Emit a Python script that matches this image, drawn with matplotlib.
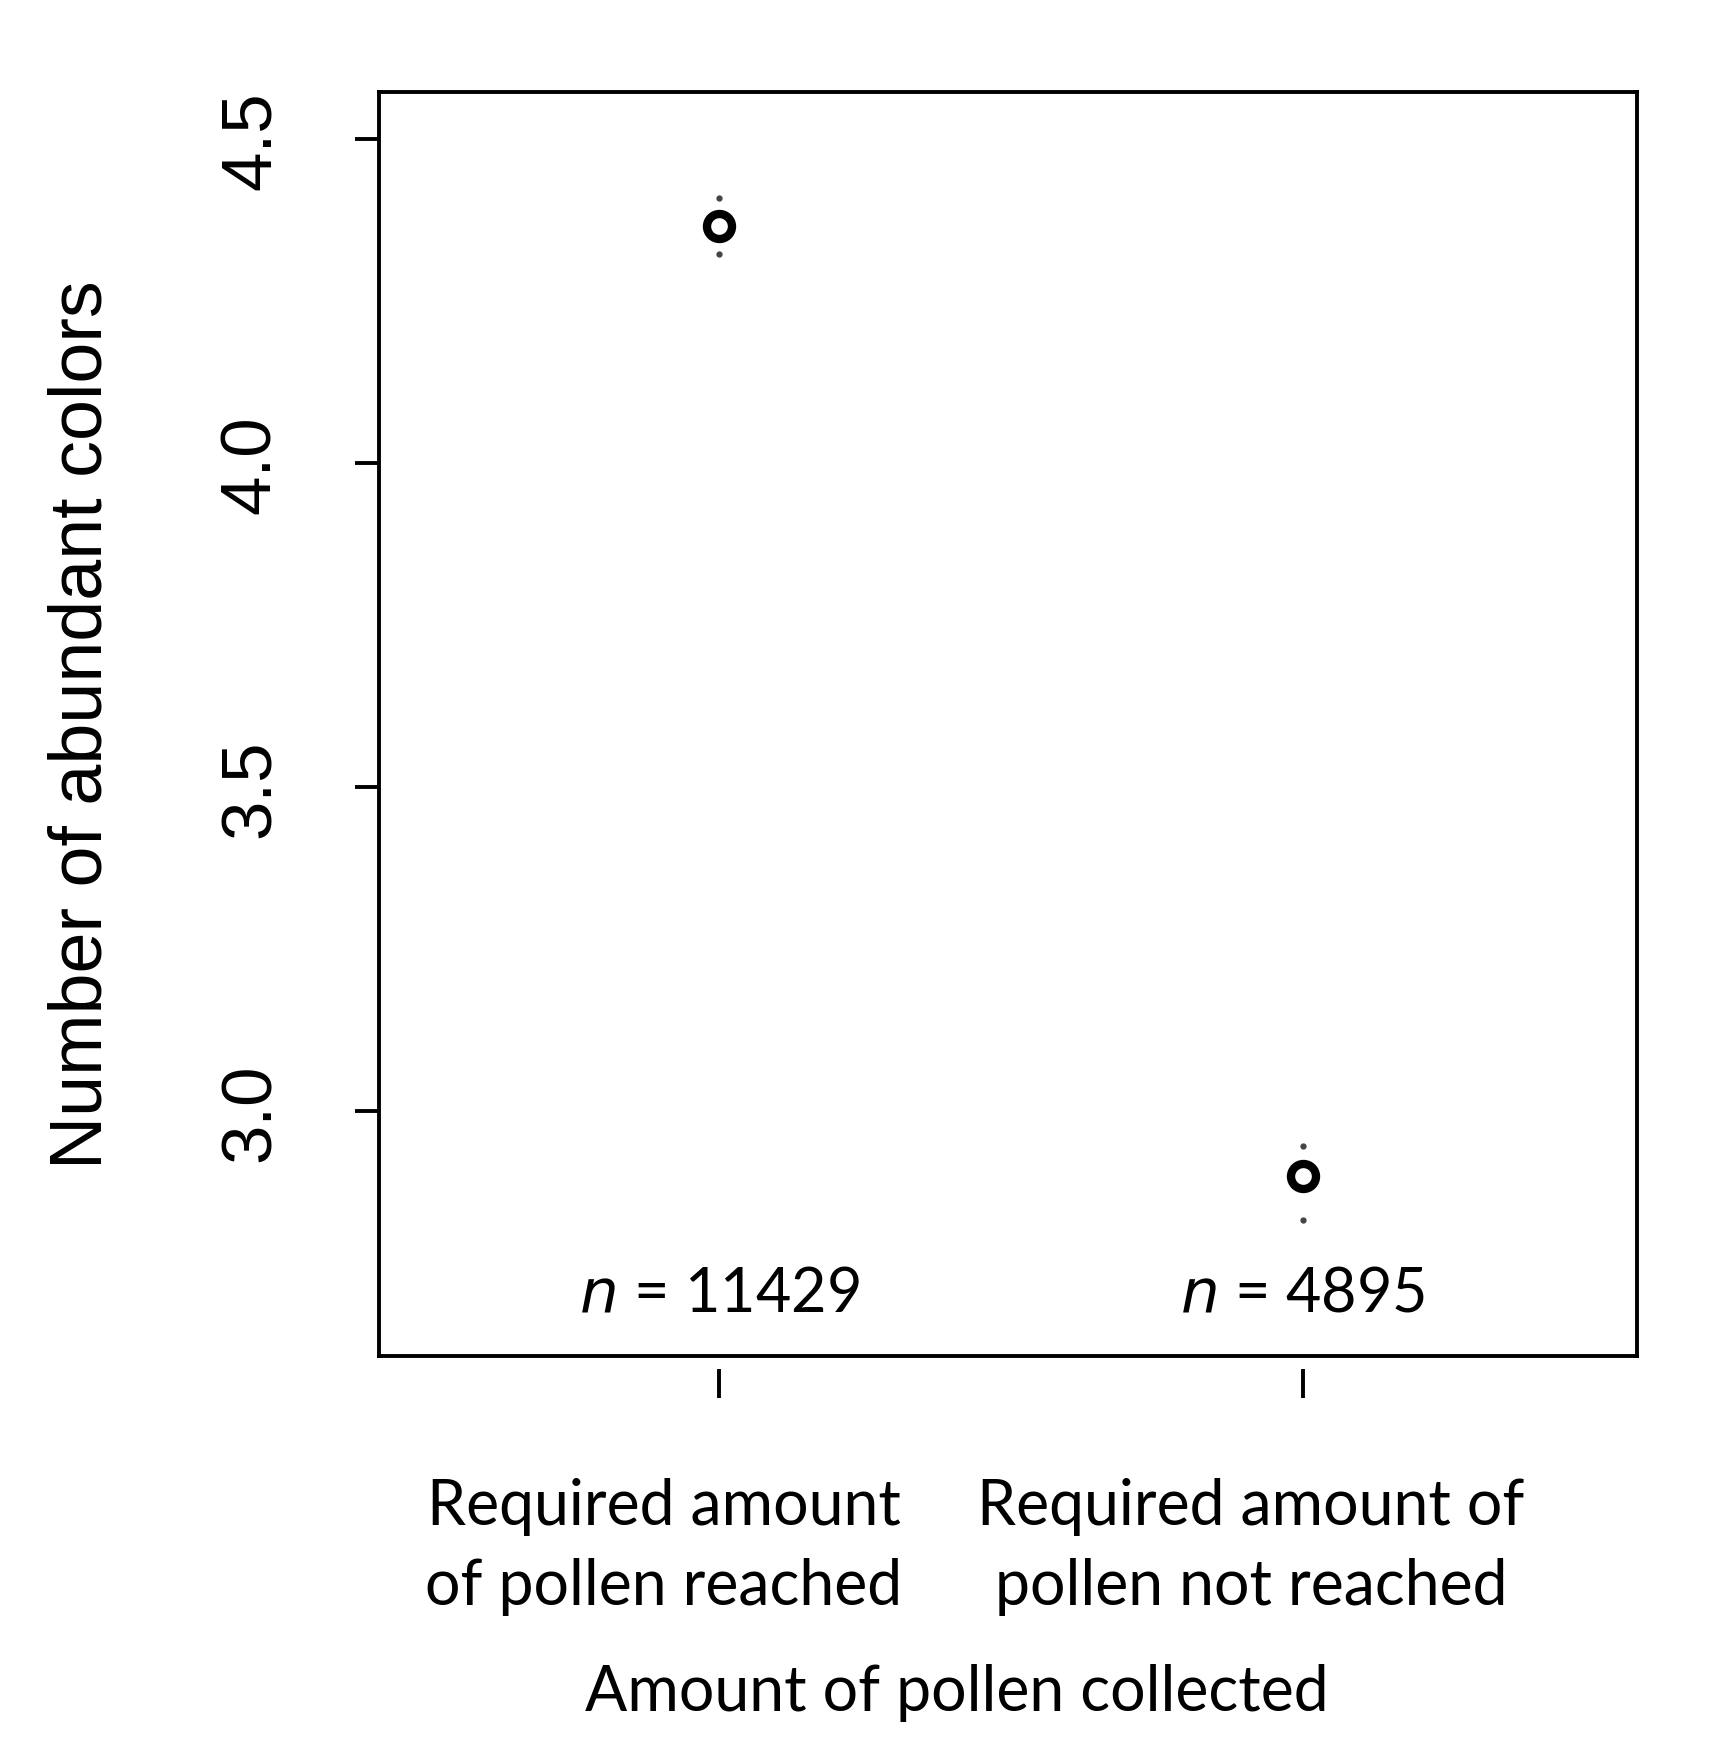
import matplotlib
matplotlib.use("Agg")
import matplotlib.pyplot as plt

# group positions and estimated means with CI ends
groups = [1, 2]
means = [4.367, 2.90]
ci_low = [4.323, 2.832]
ci_high = [4.41, 2.947]
n_labels = ["11429", "4895"]
cat_lines = [["Required amount", "of pollen reached"],
             ["Required amount of", "pollen not reached"]]
cat_x = [0.905, 1.912]
yticks = [3.0, 3.5, 4.0, 4.5]

fig = plt.figure(figsize=(17.21, 17.49), dpi=100)
ax = fig.add_axes([0.2204, 0.2243, 0.7306, 0.7225])

ax.plot(groups, means, linestyle='none', marker='o', markersize=18,
        markerfacecolor='white', markeredgecolor='black', markeredgewidth=6, zorder=3)
##CI ends show up only as small dots
ax.plot(groups, ci_low, linestyle='none', marker='o', markersize=3.5, color='#444444')
ax.plot(groups, ci_high, linestyle='none', marker='o', markersize=3.5, color='#444444')

ax.set_xlim(0.417, 2.573)
ax.set_ylim(2.623, 4.573)

lw = 2.8
for s in ax.spines.values():
    s.set_linewidth(lw)
ax.spines['bottom'].set_position(('outward', 9.5))
ax.spines['bottom'].set_visible(False)
ax.plot([0, 1], [0, 0], transform=ax.transAxes, color='black', lw=lw, clip_on=False)

ax.set_xticks(groups)
ax.set_xticklabels([])
ax.set_yticks(yticks)
ax.set_yticklabels([f"{v:.1f}" for v in yticks], rotation=90, va='center',
                   family='Liberation Sans', fontsize=51)
ax.tick_params(axis='x', length=21, width=lw)
ax.tick_params(axis='y', length=17, width=lw, pad=51)

ax.set_ylabel("Number of abundant colors", family='Liberation Sans', fontsize=53)
ax.yaxis.set_label_coords(-0.209, 0.5)

calib = ['Lato', 'DejaVu Sans']
for g, n in zip(groups, n_labels):
    ax.text(g, 0.05, r"$\it{n}$ = " + n, transform=ax.get_xaxis_transform(),
            ha='center', va='center', fontsize=44, family=calib)

trans = ax.get_xaxis_transform()
for x, lines in zip(cat_x, cat_lines):
    ax.text(x, -0.119, lines[0], transform=trans, ha='center', va='center',
            fontsize=45, family=calib, clip_on=False)
    ax.text(x, -0.182, lines[1], transform=trans, ha='center', va='center',
            fontsize=45, family=calib, clip_on=False)

fig.text(0.556, 0.032, "Amount of pollen collected", ha='center', va='center',
         fontsize=45, family=calib)

fig.savefig("out.png", dpi=100, facecolor='white')
